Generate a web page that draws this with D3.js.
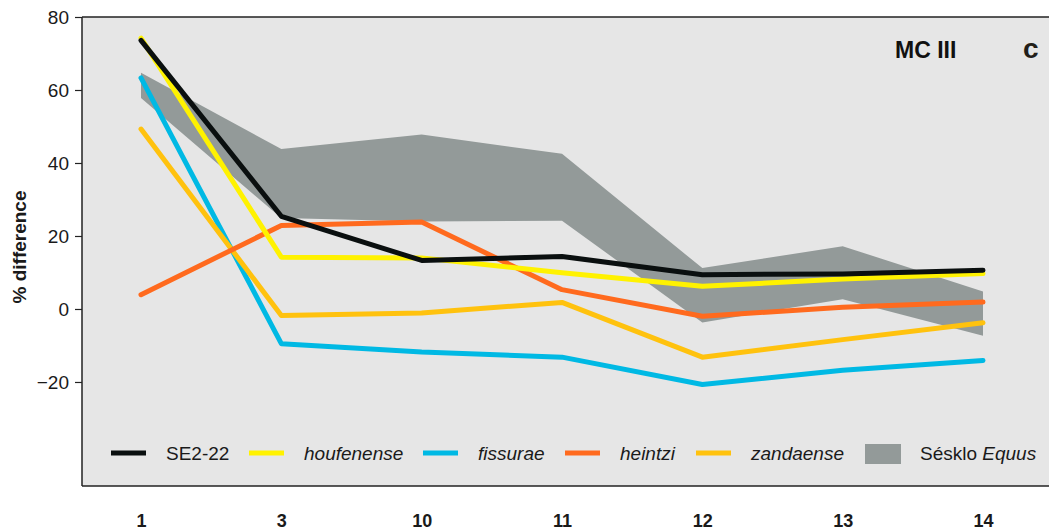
<!DOCTYPE html>
<html>
<head>
<meta charset="utf-8">
<script src="https://cdn.jsdelivr.net/npm/d3@7"></script>
<style>
  body { margin: 0; background: #fff; }
  svg { display: block; font-family: "Liberation Sans", Arial, sans-serif; }
</style>
</head>
<body>
<script>
// chart values
let positions = ['1', '3', '10', '11', '12', '13', '14'];
let se222 = [73.6, 25.4, 13.3, 14.4, 9.4, 9.6, 10.6];
let houfenense = [74.2, 14.2, 14.0, 9.9, 6.2, 8.2, 9.7];
let fissurae = [63.3, -9.5, -11.8, -13.2, -20.7, -16.8, -14.1];
let heintzi = [3.9, 22.9, 23.8, 5.3, -2.0, 0.5, 1.9];
let zandaense = [49.3, -1.8, -1.1, 1.8, -13.2, -8.4, -3.8];
let seskloUpper = [64.7, 43.8, 47.8, 42.5, 11.2, 17.2, 4.8];
let seskloLower = [57.8, 24.9, 24.0, 24.2, -3.7, 2.7, -7.3];
let yTicks = [80, 60, 40, 20, 0, -20];

let width = 1049, height = 532;
let margin = { top: 17, left: 82, bottom: 46 };
let plotBottom = height - margin.bottom;

let svg = d3.select('body').append('svg')
    .attr('width', width)
    .attr('height', height);

let x = d3.scalePoint().domain(positions).range([141, 983]);
let y = d3.scaleLinear().domain([-48.5, 80]).range([plotBottom, margin.top]);

// panel background
svg.append('rect')
    .attr('x', margin.left)
    .attr('y', margin.top)
    .attr('width', width - margin.left + 5)
    .attr('height', plotBottom - margin.top)
    .attr('fill', '#e6e6e6');

// range band
let band = positions.map(function(p, i) { return { p: p, lo: seskloLower[i], hi: seskloUpper[i] }; });
let area = d3.area()
  .x(function(d) { return x(d.p); })
  .y0(function(d) { return y(d.lo); })
  .y1(function(d) { return y(d.hi); });

svg.append('path')
    .datum(band)
    .attr('d', area)
    .attr('fill', '#939a99');

let series = [
  { name: 'fissurae', values: fissurae, color: '#00b9e4' },
  { name: 'zandaense', values: zandaense, color: '#ffc20e' },
  { name: 'heintzi', values: heintzi, color: '#ff6a1e' },
  { name: 'houfenense', values: houfenense, color: '#fff200' },
  { name: 'SE2-22', values: se222, color: '#0a0f0f' }
];

let line = d3.line()
  .x(function(d, i) { return x(positions[i]); })
  .y(function(d) { return y(d); });

svg.selectAll('.series')
    .data(series)
  .enter().append('path')
    .attr('class', 'series')
    .attr('d', function(d) { return line(d.values); })
    .attr('fill', 'none')
    .attr('stroke', function(d) { return d.color; })
    .attr('stroke-width', 5)
    .attr('stroke-linecap', 'round')
    .attr('stroke-linejoin', 'round');

// frame lines
svg.append('line')
    .attr('x1', margin.left).attr('x2', width)
    .attr('y1', margin.top).attr('y2', margin.top)
    .attr('stroke', '#222').attr('stroke-width', 1.5);
svg.append('line')
    .attr('x1', margin.left).attr('x2', width)
    .attr('y1', plotBottom).attr('y2', plotBottom)
    .attr('stroke', '#222').attr('stroke-width', 1.5);

// y axis
let yAxis = d3.axisLeft(y)
  .tickValues(yTicks)
  .tickSize(7)
  .tickPadding(6)
  .tickFormat(function(d) { return d < 0 ? '\u2212' + Math.abs(d) : d; });

let gy = svg.append('g')
    .attr('transform', 'translate(' + margin.left + ',0)')
    .call(yAxis);
gy.select('.domain')
    .attr('d', 'M0,' + margin.top + 'V' + plotBottom)
    .attr('stroke', '#222').attr('stroke-width', 1.5);
gy.selectAll('.tick line').attr('stroke', '#222').attr('stroke-width', 1.2);
gy.selectAll('.tick text')
    .attr('font-size', 19)
    .attr('font-family', '"Liberation Sans", Arial, sans-serif')
    .attr('fill', '#1a1a1a');

svg.append('text')
    .attr('transform', 'translate(26,247) rotate(-90)')
    .attr('text-anchor', 'middle')
    .attr('font-size', 19)
    .attr('font-weight', 'bold')
    .attr('fill', '#1a1a1a')
    .text('% difference');

// x labels
let xAxis = d3.axisBottom(x).tickSize(0).tickPadding(0);
let gx = svg.append('g')
    .attr('transform', 'translate(0,514)')
    .call(xAxis);
gx.select('.domain').remove();
gx.selectAll('.tick text')
    .attr('font-size', 18)
    .attr('font-weight', 'bold')
    .attr('font-family', '"Liberation Sans", Arial, sans-serif')
    .attr('fill', '#1a1a1a');

// panel labels
svg.append('text')
    .attr('x', 895).attr('y', 58)
    .attr('font-size', 23)
    .attr('font-weight', 'bold')
    .attr('fill', '#111')
    .text('MC III');
svg.append('text')
    .attr('x', 1023).attr('y', 58)
    .attr('font-size', 28)
    .attr('font-weight', 'bold')
    .attr('fill', '#231f1a')
    .text('c');

// legend
let legendItems = [
  { label: 'SE2-22', color: '#0a0f0f', italic: false, x: 111 },
  { label: 'houfenense', color: '#fff200', italic: true, x: 249 },
  { label: 'fissurae', color: '#00b9e4', italic: true, x: 423 },
  { label: 'heintzi', color: '#ff6a1e', italic: true, x: 565 },
  { label: 'zandaense', color: '#ffc20e', italic: true, x: 696 }
];
let legendY = 453;

let lg = svg.selectAll('.legend')
    .data(legendItems)
  .enter().append('g')
    .attr('class', 'legend')
    .attr('transform', function(d) { return 'translate(' + d.x + ',' + legendY + ')'; });
lg.append('line')
    .attr('x1', 0).attr('x2', 35)
    .attr('stroke', function(d) { return d.color; })
    .attr('stroke-width', 5);
lg.append('text')
    .attr('x', 55).attr('y', 7)
    .attr('font-size', 19)
    .attr('font-style', function(d) { return d.italic ? 'italic' : 'normal'; })
    .attr('fill', '#1a1a1a')
    .text(function(d) { return d.label; });

svg.append('rect')
    .attr('x', 865).attr('y', 444)
    .attr('width', 36).attr('height', 20)
    .attr('fill', '#939a99');
let st = svg.append('text')
    .attr('x', 920).attr('y', legendY + 7)
    .attr('font-size', 19)
    .attr('fill', '#1a1a1a');
st.append('tspan').text('Sésklo ');
st.append('tspan').attr('font-style', 'italic').text('Equus');
</script>
</body>
</html>
